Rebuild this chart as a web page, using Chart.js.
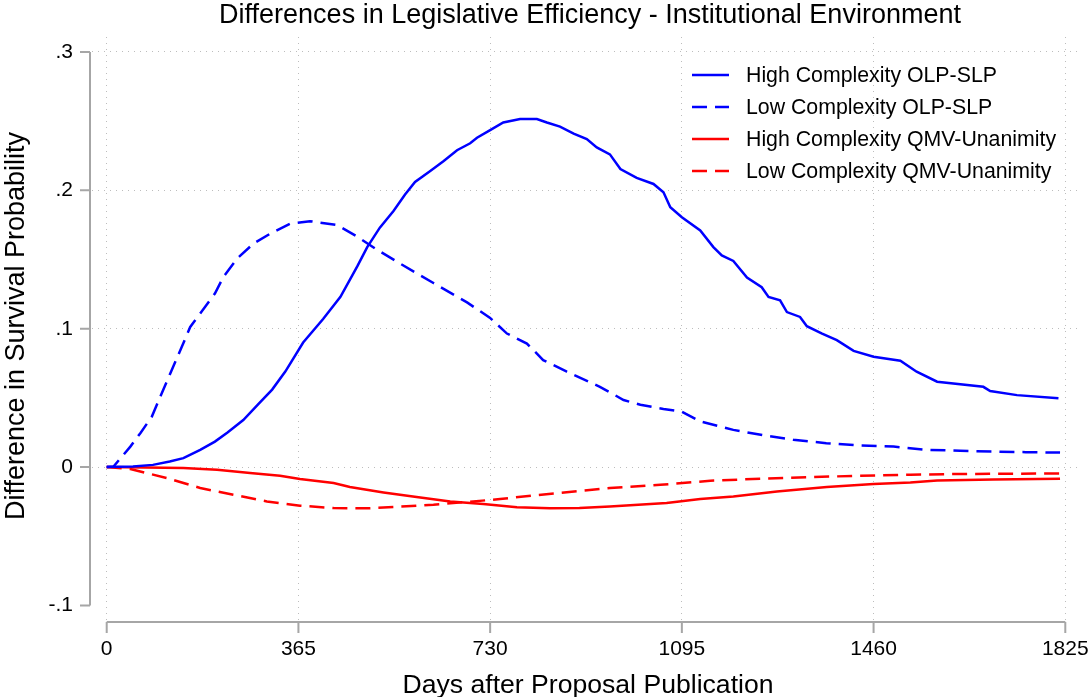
<!DOCTYPE html>
<html>
<head>
<meta charset="utf-8">
<script src="https://cdn.jsdelivr.net/npm/chart.js@4/dist/chart.umd.min.js"></script>
<style>
  body { margin: 0; background: #fff; }
  #wrap { width: 1090px; height: 697px; position: relative; }
</style>
</head>
<body>
<div id="wrap"><canvas id="grafico"></canvas></div>
<script>
// Dados (dias após a publicação, diferença na probabilidade)
const titulo = 'Differences in Legislative Efficiency - Institutional Environment';
const tituloY = 'Difference in Survival Probability';
const tituloX = 'Days after Proposal Publication';
const ticksX = [0, 365, 730, 1095, 1460, 1825];
const ticksY = [-0.1, 0, 0.1, 0.2, 0.3];

const nomesSeries = [
  'High Complexity OLP-SLP',
  'Low Complexity OLP-SLP',
  'High Complexity QMV-Unanimity',
  'Low Complexity QMV-Unanimity'
];

const diasAltaOlp = [0, 50, 88, 120, 146, 178, 206, 230, 260, 290, 315, 340, 374, 412, 445, 477, 496, 520, 546, 568,
  587, 616, 641, 667, 692, 705, 730, 755, 787, 819, 838, 863, 889, 914, 933, 958, 978, 1009, 1041, 1060,
  1073, 1095, 1130, 1155, 1171, 1193, 1219, 1247, 1260, 1282, 1295, 1320, 1333, 1362, 1390, 1422, 1460, 1511, 1542, 1581,
  1669, 1682, 1733, 1812];
const difAltaOlp = [0, 0.0005, 0.0016, 0.004, 0.0065, 0.0125, 0.0184, 0.025, 0.034, 0.046, 0.056, 0.069, 0.090, 0.107, 0.123, 0.145, 0.159, 0.173, 0.185, 0.197,
  0.206, 0.214, 0.221, 0.229, 0.234, 0.238, 0.2435, 0.249, 0.2515, 0.2515, 0.249, 0.246, 0.241, 0.237, 0.231, 0.226, 0.2154, 0.209, 0.2046, 0.1986,
  0.1878, 0.1805, 0.171, 0.159, 0.153, 0.149, 0.137, 0.130, 0.123, 0.1205, 0.112, 0.1085, 0.1018, 0.0965, 0.0917, 0.084, 0.0797, 0.0768, 0.0689, 0.0617,
  0.058, 0.055, 0.052, 0.0497];

const diasBaixaOlp = [0, 13, 45, 64, 86, 102, 121, 143, 159, 178, 206, 222, 248, 279, 311, 349, 387, 438, 476, 514,
  559, 622, 686, 730, 762, 800, 831, 876, 939, 984, 1016, 1060, 1095, 1130, 1193, 1250, 1307, 1370, 1434, 1498,
  1561, 1625, 1688, 1750, 1815];
const difBaixaOlp = [0, 0.0004, 0.0148, 0.0245, 0.0365, 0.0509, 0.0677, 0.0869, 0.1013, 0.111, 0.1254, 0.1373, 0.1506, 0.1614, 0.1686, 0.1758, 0.1777, 0.1750, 0.1668, 0.1572,
  0.1470, 0.1330, 0.1190, 0.1078, 0.0965, 0.0893, 0.0773, 0.0689, 0.058, 0.0485, 0.045, 0.042, 0.040, 0.033, 0.0269, 0.023, 0.0197, 0.0173, 0.0156, 0.0148,
  0.0125, 0.0118, 0.0112, 0.0108, 0.0105];

const diasAltaQmv = [0, 146, 210, 273, 330, 368, 432, 463, 527, 590, 654, 717, 781, 844, 900, 958, 1066, 1130, 1193, 1276,
  1371, 1460, 1530, 1581, 1688, 1815];
const difAltaQmv = [0, -0.0007, -0.0019, -0.0043, -0.0063, -0.0086, -0.0115, -0.0144, -0.0183, -0.0216, -0.0248, -0.0267, -0.0291, -0.0298, -0.0295, -0.0284, -0.0260, -0.0231, -0.0212, -0.0176,
  -0.0144, -0.0122, -0.0111, -0.0097, -0.0089, -0.0084];

const diasBaixaQmv = [0, 45, 114, 178, 241, 305, 368, 432, 495, 559, 622, 686, 749, 812, 863, 958, 1054, 1149, 1244, 1339,
  1434, 1530, 1625, 1720, 1815];
const difBaixaQmv = [0, -0.0014, -0.0079, -0.0151, -0.0200, -0.0248, -0.0279, -0.0296, -0.0298, -0.0286, -0.0272, -0.0252, -0.0231, -0.0205, -0.0187, -0.0151, -0.0128, -0.0099, -0.0084, -0.0072,
  -0.0063, -0.0055, -0.0050, -0.0048, -0.0046];

const FONTE = '"Liberation Sans", Arial, Helvetica, sans-serif';
const CINZA = '#a6a6a6';
const TRACO = [15, 8];

function pontos(dias, valores) {
  return dias.map((d, i) => ({ x: d, y: valores[i] }));
}

function serie(rotulo, dias, valores, cor, tracejado) {
  return {
    label: rotulo,
    data: pontos(dias, valores),
    borderColor: cor,
    backgroundColor: cor,
    borderWidth: 2.5,
    borderDash: tracejado ? TRACO : [],
    pointRadius: 0,
    tension: 0,
    fill: false
  };
}

// Eixos, títulos e legenda no estilo Stata
const decoracao = {
  id: 'decoracao',
  afterDraw(chart) {
    const ctx = chart.ctx;
    const sx = chart.scales.x;
    const sy = chart.scales.y;
    ctx.save();

    // linhas dos eixos
    ctx.strokeStyle = CINZA;
    ctx.lineWidth = 2;
    ctx.setLineDash([]);
    const xEixoY = chart.chartArea.left - 2;
    ctx.beginPath();
    ctx.moveTo(xEixoY, sy.getPixelForValue(ticksY[ticksY.length - 1]));
    ctx.lineTo(xEixoY, sy.getPixelForValue(ticksY[0]));
    ticksY.forEach(v => {
      const py = sy.getPixelForValue(v);
      ctx.moveTo(xEixoY - 10, py);
      ctx.lineTo(xEixoY, py);
    });
    const yEixoX = chart.chartArea.bottom + 2;
    ctx.moveTo(sx.getPixelForValue(ticksX[0]), yEixoX);
    ctx.lineTo(sx.getPixelForValue(ticksX[ticksX.length - 1]), yEixoX);
    ticksX.forEach(v => {
      const px = sx.getPixelForValue(v);
      ctx.moveTo(px, yEixoX);
      ctx.lineTo(px, yEixoX + 11);
    });
    ctx.stroke();

    // títulos
    ctx.fillStyle = '#000';
    ctx.textAlign = 'center';
    ctx.textBaseline = 'alphabetic';
    ctx.font = '27px ' + FONTE;
    ctx.fillText(titulo, 590, 23);
    ctx.save();
    ctx.translate(24, 326);
    ctx.rotate(-Math.PI / 2);
    ctx.fillText(tituloY, 0, 0);
    ctx.restore();
    ctx.font = '26.6px ' + FONTE;
    ctx.fillText(tituloX, 588, 693);

    // legenda
    ctx.font = '21.3px ' + FONTE;
    ctx.textAlign = 'left';
    ctx.textBaseline = 'middle';
    chart.data.datasets.forEach((ds, i) => {
      const yl = 75 + i * 32;
      ctx.strokeStyle = ds.borderColor;
      ctx.lineWidth = 2.5;
      ctx.setLineDash(ds.borderDash);
      ctx.beginPath();
      ctx.moveTo(692, yl);
      ctx.lineTo(729, yl);
      ctx.stroke();
      ctx.fillStyle = '#000';
      ctx.fillText(ds.label, 746, yl + 1);
    });
    ctx.restore();
  }
};

new Chart(document.getElementById('grafico'), {
  type: 'line',
  data: {
    datasets: [
      serie(nomesSeries[0], diasAltaOlp, difAltaOlp, '#0000ff', false),
      serie(nomesSeries[1], diasBaixaOlp, difBaixaOlp, '#0000ff', true),
      serie(nomesSeries[2], diasAltaQmv, difAltaQmv, '#ff0000', false),
      serie(nomesSeries[3], diasBaixaQmv, difBaixaQmv, '#ff0000', true)
    ]
  },
  options: {
    responsive: true,
    maintainAspectRatio: false,
    animation: false,
    layout: { padding: { top: 37, right: 10, left: 0, bottom: 0 } },
    plugins: {
      legend: { display: false },
      title: { display: false },
      tooltip: { enabled: false }
    },
    scales: {
      x: {
        type: 'linear',
        min: -28,
        max: 1853,
        afterFit(scale) {
          scale.height = 77;
          scale.paddingLeft = 0;
          scale.paddingRight = 0;
        },
        afterBuildTicks(scale) { scale.ticks = ticksX.map(v => ({ value: v })); },
        border: { display: false, dash: [1, 5] },
        grid: {
          color: '#bdbdbd',
          lineWidth: 1,
          drawTicks: false
        },
        ticks: {
          color: '#000',
          font: { family: FONTE, size: 21 },
          padding: 17,
          maxRotation: 0,
          autoSkip: false,
          callback: v => String(v)
        }
      },
      y: {
        type: 'linear',
        min: -0.1105,
        max: 0.3108,
        afterFit(scale) {
          scale.width = 92;
          scale.paddingTop = 0;
          scale.paddingBottom = 0;
        },
        afterBuildTicks(scale) { scale.ticks = ticksY.map(v => ({ value: v })); },
        border: { display: false, dash: [1, 5] },
        grid: {
          color: ctx => (ctx.tick && ctx.tick.value === ticksY[0]) ? 'rgba(0,0,0,0)' : '#bdbdbd',
          lineWidth: 1,
          drawTicks: false
        },
        ticks: {
          color: '#000',
          font: { family: FONTE, size: 21 },
          padding: 19,
          callback: v => v === 0 ? '0' : v.toFixed(1).replace('0.', '.')
        }
      }
    }
  },
  plugins: [decoracao]
});
</script>
</body>
</html>
